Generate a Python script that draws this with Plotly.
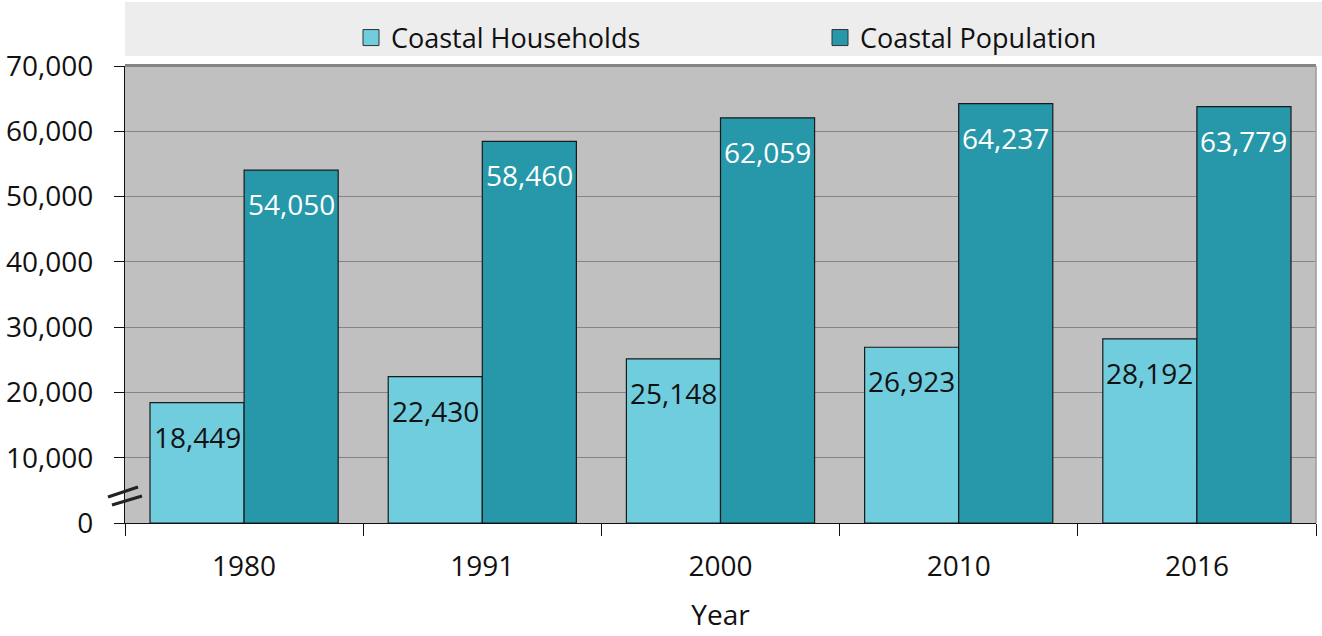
import plotly.graph_objects as go

years = ["1980", "1991", "2000", "2010", "2016"]
households = [18449, 22430, 25148, 26923, 28192]
population = [54050, 58460, 62059, 64237, 63779]
y_ticks = [0, 10000, 20000, 30000, 40000, 50000, 60000, 70000]

series_names = ["Coastal Households", "Coastal Population"]
series_colors = ["#70CDDE", "#2698AA"]

FONT = "Open Sans"
W, H = 1322, 636
L, R, T, B = 125, 6, 66, 113
PW, PH = W - L - R, H - T - B


def px_x(x):
    return (x - L) / PW


def px_y(y):
    return (H - B - y) / PH


fig = go.Figure()
for name, vals, col in zip(series_names, [households, population], series_colors):
    fig.add_trace(go.Bar(
        name=name, x=years, y=vals, showlegend=False,
        marker=dict(color=col, line=dict(color="#1a1a1a", width=1.2)),
    ))

# legend entries with larger square swatches
for name, col in zip(series_names, series_colors):
    fig.add_trace(go.Scatter(
        name=name, x=[None], y=[None], mode="markers",
        marker=dict(symbol="square", size=16, color=col,
                    line=dict(color="#333333", width=1)),
    ))

# value labels sit inside each bar, just under its top
annotations = []
for i, (h, p) in enumerate(zip(households, population)):
    annotations.append(dict(x=i, y=h, text=f"{h:,}", showarrow=False,
                            xshift=-47, yshift=-34, yanchor="middle",
                            font=dict(family=FONT, size=28, color="#111111")))
    annotations.append(dict(x=i, y=p, text=f"{p:,}", showarrow=False,
                            xshift=47, yshift=-34, yanchor="middle",
                            font=dict(family=FONT, size=28, color="#ffffff")))

shapes = [
    # legend band
    dict(type="rect", xref="paper", yref="paper", layer="below",
         x0=0, x1=px_x(W), y0=px_y(56), y1=px_y(2),
         fillcolor="#EDEDED", line=dict(width=0)),
    # top and right frame of the plot area
    dict(type="line", xref="paper", yref="paper",
         x0=0, x1=1, y0=px_y(65.5), y1=px_y(65.5),
         line=dict(color="#858585", width=3)),
    dict(type="line", xref="paper", yref="paper",
         x0=1, x1=1, y0=0, y1=1, line=dict(color="#9a9a9a", width=1.5)),
    # axis break marks
    dict(type="line", xref="paper", yref="paper",
         x0=px_x(108), y0=px_y(497), x1=px_x(138), y1=px_y(487),
         line=dict(color="#222222", width=3)),
    dict(type="line", xref="paper", yref="paper",
         x0=px_x(112), y0=px_y(505), x1=px_x(142), y1=px_y(496),
         line=dict(color="#222222", width=3)),
]

fig.update_layout(
    width=W, height=H,
    margin=dict(l=L, r=R, t=T, b=B, pad=0, autoexpand=False),
    paper_bgcolor="#ffffff",
    plot_bgcolor="#C0C0C0",
    barmode="group", bargap=0.21, bargroupgap=0,
    font=dict(family=FONT, size=28, color="#111111"),
    showlegend=True,
    legend=dict(orientation="h", x=px_x(351), xanchor="left",
                y=px_y(38), yanchor="middle",
                bgcolor="rgba(0,0,0,0)", font=dict(family=FONT, size=27, color="#111111"),
                entrywidth=424, entrywidthmode="pixels",
                itemwidth=30, traceorder="normal"),
    annotations=annotations,
    shapes=shapes,
    xaxis=dict(
        type="category", automargin=False, range=[-0.5, len(years) - 0.5],
        title=dict(text="Year", font=dict(family=FONT, size=28), standoff=22),
        showline=True, linecolor="#111111", linewidth=1.2,
        ticks="outside", tickson="boundaries", ticklen=12, tickcolor="#111111",
        tickwidth=1, ticklabelstandoff=18, tickangle=0,
        tickfont=dict(family=FONT, size=28),
        showgrid=False,
    ),
    yaxis=dict(
        range=[0, 70000], tickvals=y_ticks, tickformat=",", automargin=False,
        showline=True, linecolor="#111111", linewidth=1.2,
        ticks="outside", ticklen=10, tickcolor="#111111",
        ticklabelstandoff=15,
        tickfont=dict(family=FONT, size=28),
        showgrid=True, gridcolor="#858585", gridwidth=1.3,
        zeroline=False,
    ),
)

fig.write_html("out.html")
